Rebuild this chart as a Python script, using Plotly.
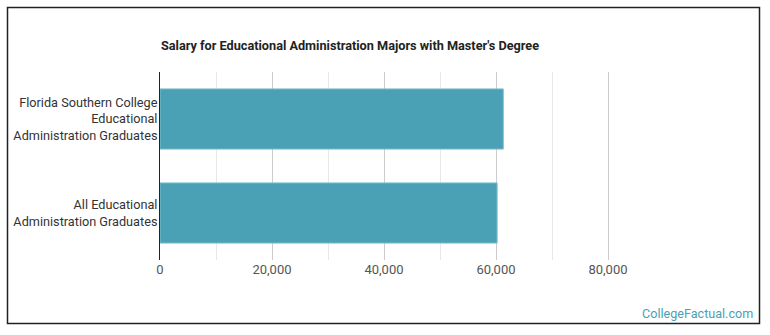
import plotly.graph_objects as go

categories = [
    "Florida Southern College<br>Educational<br>Administration Graduates",
    "All Educational<br>Administration Graduates",
]
salaries = [61300, 60200]
major_ticks = [0, 20000, 40000, 60000, 80000]
major_labels = ["0", "20,000", "40,000", "60,000", "80,000"]
minor_ticks = [10000, 30000, 50000, 70000]

W, H = 770, 335
L, R, T, B = 160, 50, 72, 75
pw, ph = W - L - R, H - T - B


def px_x(x):
    return (x - L) / pw


def px_y(y):
    return (H - B - y) / ph


fig = go.Figure()
fig.add_trace(go.Bar(
    y=categories,
    x=salaries,
    orientation="h",
    width=0.64,
    marker=dict(color="#4aa0b5", line=dict(color="#7cbfcd", width=1)),
    hoverinfo="skip",
))

fig.update_layout(
    width=W, height=H,
    margin=dict(l=L, r=R, t=T, b=B, autoexpand=False),
    paper_bgcolor="white",
    plot_bgcolor="white",
    showlegend=False,
    font=dict(family="Roboto", size=13, color="#333333"),
    xaxis=dict(
        range=[0, 100000],
        tickmode="array",
        tickvals=major_ticks,
        ticktext=major_labels,
        showgrid=True,
        gridcolor="#cccccc",
        gridwidth=1,
        zeroline=False,
        showline=False,
        ticks="",
        automargin=False,
        tickfont=dict(family="Roboto", size=13, color="#555555"),
        minor=dict(tickmode="array", tickvals=minor_ticks, showgrid=True,
                   gridcolor="#e8e8e8", gridwidth=1, ticks=""),
        fixedrange=True,
    ),
    yaxis=dict(
        autorange="reversed",
        showgrid=False,
        zeroline=False,
        showline=True,
        linecolor="#222222",
        linewidth=1,
        ticks="",
        automargin=False,
        ticklabelstandoff=-1,
        tickfont=dict(family="Roboto", size=12.7, color="#333333"),
        fixedrange=True,
    ),
    shapes=[dict(
        type="rect", xref="paper", yref="paper",
        x0=px_x(7.5), x1=px_x(759.5), y0=px_y(7.5), y1=px_y(323.5),
        line=dict(color="#222222", width=1.5), fillcolor="rgba(0,0,0,0)",
        layer="below",
    )],
    annotations=[
        dict(text="<b>Salary for Educational Administration Majors with Master's Degree</b>",
             xref="paper", yref="paper", x=px_x(159), y=px_y(45),
             xanchor="left", yanchor="middle", showarrow=False,
             font=dict(family="Roboto", size=12.7, color="#222222")),
        dict(text="CollegeFactual.com",
             xref="paper", yref="paper", x=px_x(755), y=px_y(313),
             xanchor="right", yanchor="middle", showarrow=False,
             font=dict(family="Roboto", size=12.6, color="#4a9fb5")),
    ],
)

fig.write_html("out.html", config={"displayModeBar": False})
